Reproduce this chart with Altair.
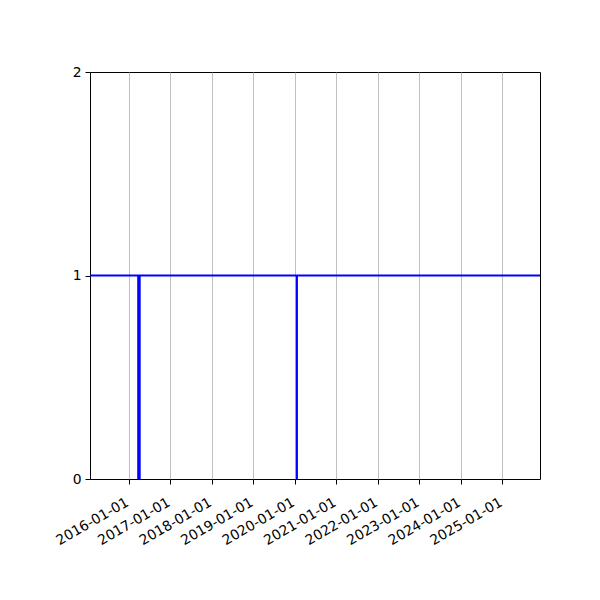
import altair as alt
import pandas as pd

# state series (step after each change)
change_dates = ["2015-01-01", "2016-03-26", "2016-04-08", "2020-01-20", "2020-01-21", "2026-06-01"]
states = [1, 0, 1, 0, 1, 1]

tick_years = list(range(2016, 2026))

df = pd.DataFrame({"date": change_dates, "state": states})

x_ticks = [alt.DateTime(year=y, month=1, date=1, utc=True) for y in tick_years]

chart = alt.Chart(df).mark_line(
    color="#0000ff", strokeWidth=2, interpolate="step-after", clip=True
).encode(
    x=alt.X(
        "date:T",
        scale=alt.Scale(
            type="utc",
            domain=[
                alt.DateTime(year=2015, month=1, date=27, utc=True),
                alt.DateTime(year=2025, month=11, date=28, utc=True),
            ],
        ),
        axis=alt.Axis(
            values=x_ticks,
            format="%Y-%m-%d",
            title=None,
            labelAngle=330,
            labelAlign="right",
            labelBaseline="top",
            labelFont="DejaVu Sans",
            labelFontSize=13.9,
            labelColor="black",
            labelPadding=11,
            labelOffset=-5,
            labelOverlap=False,
            labelFlush=False,
            grid=True,
            gridColor="#b0b0b0",
            gridWidth=0.8,
            tickColor="black",
            tickSize=5,
            domain=False,
        ),
    ),
    y=alt.Y(
        "state:Q",
        scale=alt.Scale(domain=[0, 2], nice=False, zero=False),
        axis=alt.Axis(
            tickCount=2,
            format="d",
            title=None,
            grid=False,
            labelFont="DejaVu Sans",
            labelFontSize=13.9,
            labelColor="black",
            labelPadding=4,
            labelOverlap=False,
            labelFlush=False,
            tickColor="black",
            tickSize=5,
            domain=False,
        ),
    ),
).properties(
    width=450,
    height=407,
    autosize=alt.AutoSizeParams(type="none"),
    padding={"left": 82, "top": 64, "right": 52, "bottom": 113},
).configure_view(
    stroke="black", strokeWidth=1
)

chart.save("out.html", embed_options={"renderer": "svg", "actions": False})
